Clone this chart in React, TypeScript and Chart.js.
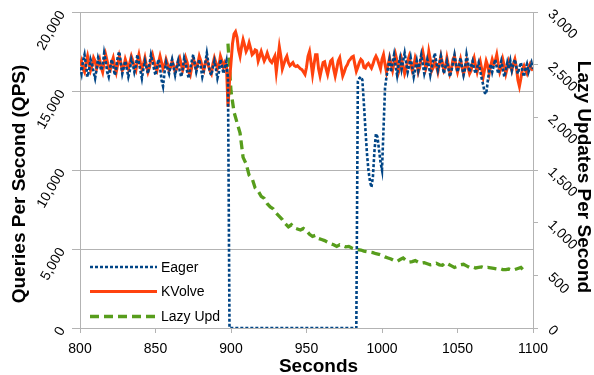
import React, { useEffect, useRef } from "react";
import { Chart, registerables } from "chart.js";

Chart.register(...registerables);

// ---------- data ----------
const SERIES_NAMES = ["Eager", "KVolve", "Lazy Upd"];
const X_TITLE = "Seconds";
const Y_LEFT_TITLE = "Queries Per Second (QPS)";
const Y_RIGHT_TITLE = "Lazy Updates Per Second";

// Eager and KVolve: one value per second, starting at second 800
const QPS_START_SECOND = 800;
const QPS_STEP_SECONDS = 1;

const eagerQps = [
  16500, 16100, 16900, 17300, 16600, 15900, 16300, 17000, 16700, 16200, // 800
  15800, 16400, 17100, 16800, 16300, 16600, 17400, 16900, 16200, 15900, // 810
  16500, 17000, 16600, 16000, 16400, 17200, 17500, 16800, 16100, 16500, // 820
  16900, 16400, 15900, 16300, 17000, 16700, 16200, 16600, 17300, 16800, // 830
  16300, 15800, 16400, 16900, 16500, 16100, 16700, 17300, 16900, 16400, // 840
  16000, 16600, 17000, 16500, 15700, 15300, 16200, 16800, 16400, 16100, // 850
  16600, 17000, 16500, 16000, 16500, 16900, 16300, 15900, 16400, 17100, // 860
  16800, 16200, 15800, 16400, 16900, 17300, 16700, 16200, 16600, 17000, // 870
  16500, 15900, 16300, 16800, 17400, 16800, 16200, 16000, 16500, 16900, // 880
  16400, 15800, 16200, 17000, 16600, 16100, 16500, 16900, 15800, 0, // 890
  0, 0, 0, 0, 0, 0, 0, 0, 0, 0, // 900
  0, 0, 0, 0, 0, 0, 0, 0, 0, 0, // 910
  0, 0, 0, 0, 0, 0, 0, 0, 0, 0, // 920
  0, 0, 0, 0, 0, 0, 0, 0, 0, 0, // 930
  0, 0, 0, 0, 0, 0, 0, 0, 0, 0, // 940
  0, 0, 0, 0, 0, 0, 0, 0, 0, 0, // 950
  0, 0, 0, 0, 0, 0, 0, 0, 0, 0, // 960
  0, 0, 0, 0, 0, 0, 0, 0, 0, 0, // 970
  0, 0, 0, 0, 15600, 15800, 15900, 15700, 14200, 12600, // 980
  11100, 10000, 9300, 8900, 9600, 11200, 12300, 12100, 11300, 10500, // 990
  10000, 12600, 15200, 15900, 16500, 17000, 16200, 16800, 17300, 16600, // 1000
  16000, 16700, 17100, 16400, 16900, 17400, 16800, 16200, 16600, 17100, // 1010
  16500, 15900, 16400, 16900, 16300, 16800, 17300, 16700, 16100, 16500, // 1020
  17000, 16600, 16000, 16500, 17000, 17400, 16800, 16300, 16700, 17200, // 1030
  16600, 16100, 16500, 16900, 16400, 15900, 16300, 16800, 17300, 16700, // 1040
  16200, 16600, 17100, 16500, 16000, 16400, 17300, 16800, 16200, 16600, // 1050
  16900, 16400, 16100, 16500, 16800, 16300, 15800, 15400, 14900, 14800, // 1060
  15600, 16300, 16700, 16200, 16600, 17000, 16500, 16100, 16500, 16900, // 1070
  16400, 15900, 16300, 16800, 16400, 16900, 16300, 16700, 17000, 16500, // 1080
  16100, 16500, 16800, 16300, 15900, 16400, 16700, 16200, 16500, 16800, // 1090
  16400, // 1100
];

const kvolveQps = [
  16600, 16900, 16400, 16200, 16800, 17200, 16700, 16300, 16600, 17100, // 800
  16900, 16400, 16700, 17000, 16500, 16200, 16800, 17300, 16900, 16400, // 810
  16300, 16800, 17100, 16600, 16200, 16700, 17200, 16800, 16300, 16500, // 820
  17000, 16700, 16400, 16800, 17200, 16900, 16500, 16300, 16900, 17300, // 830
  16800, 16400, 16700, 17100, 16600, 16200, 16500, 17000, 17300, 16900, // 840
  16500, 16300, 16800, 17200, 16800, 16400, 16600, 17000, 16700, 16300, // 850
  16500, 16900, 16600, 16200, 16400, 16900, 17100, 16700, 16300, 16600, // 860
  17100, 16800, 16200, 16000, 16500, 17000, 16800, 16400, 16700, 17200, // 870
  16900, 16500, 16300, 16800, 17000, 16600, 16300, 16100, 16700, 17100, // 880
  16800, 16400, 16600, 17200, 16900, 16500, 16800, 16600, 14000, 15600, // 890
  16800, 18000, 18600, 18750, 18400, 17600, 17200, 17800, 18250, 17900, // 900
  17500, 17700, 18050, 17700, 17300, 17400, 17600, 17550, 16900, 17200, // 910
  17500, 17200, 16900, 17100, 17400, 17100, 16900, 16800, 17000, 17200, // 920
  16200, 17000, 17800, 17200, 16400, 16700, 17000, 17200, 16800, 16600, // 930
  16700, 16800, 16600, 16550, 16600, 16500, 16400, 16350, 16200, 16050, // 940
  16500, 17200, 17500, 16800, 16050, 16700, 17300, 17300, 16400, 15950, // 950
  16400, 16800, 16850, 16400, 16050, 16500, 16900, 17000, 16400, 15950, // 960
  16400, 16900, 17100, 16500, 15950, 16200, 16500, 16650, 16900, 17000, // 970
  17150, 17200, 16700, 16250, 16500, 16800, 17000, 16900, 16500, 16450, // 980
  16650, 16750, 16600, 16450, 16700, 17000, 17200, 17000, 16700, 16400, // 990
  17000, 17300, 16700, 16200, 16600, 17100, 16700, 16300, 16800, 17300, // 1000
  16900, 16200, 16500, 17000, 16600, 16100, 16400, 16900, 17200, 16700, // 1010
  16300, 16600, 17100, 16800, 16200, 16500, 17100, 17500, 17000, 16400, // 1020
  16700, 17500, 17000, 16300, 16500, 16900, 16600, 16200, 16700, 17200, // 1030
  16800, 16300, 16500, 17100, 16600, 16100, 16400, 17000, 17200, 16600, // 1040
  16200, 16600, 17000, 16500, 16100, 16500, 16900, 16500, 16100, 16300, // 1050
  16800, 17100, 16600, 16200, 16600, 16900, 16400, 15900, 16400, 16900, // 1060
  16600, 16100, 16600, 17000, 16700, 16900, 17300, 16700, 16200, 16500, // 1070
  17000, 16600, 16100, 16500, 16900, 16600, 16300, 16700, 17000, 16500, // 1080
  15700, 15300, 15800, 16400, 16600, 16300, 16100, 16500, 16700, 16400, // 1090
  16300, // 1100
];

// Lazy updates: one value every 2 seconds, starting at second 898
const LAZY_START_SECOND = 898;
const LAZY_STEP_SECONDS = 2;
const lazyUpdates = [
  2700, 2250, 2050, 1950, 1850, 1620, 1560, 1450, 1420, 1330, // 898
  1300, 1250, 1230, 1180, 1150, 1130, 1090, 1060, 1030, 990, // 918
  960, 980, 950, 940, 930, 945, 925, 890, 870, 880, // 938
  850, 840, 830, 815, 800, 790, 775, 790, 780, 770, // 958
  775, 760, 750, 745, 740, 730, 725, 720, 715, 705, // 978
  700, 690, 675, 665, 655, 640, 632, 650, 665, 640, // 998
  625, 630, 640, 625, 615, 620, 610, 600, 605, 615, // 1018
  600, 595, 620, 605, 590, 575, 585, 600, 605, 590, // 1038
  575, 580, 570, 575, 580, 570, 575, 570, 565, 560, // 1058
  565, 555, 555, 560, 550, 555, 565, 575, 545, 535, // 1078
];

// axis ranges / tick steps
const X_MIN = 800;
const X_MAX = 1100;
const X_STEP = 50;
const Y_LEFT_MAX = 20000;
const Y_LEFT_STEP = 5000;
const Y_RIGHT_MAX = 3000;
const Y_RIGHT_STEP = 500;

// ---------- styles ----------
const EAGER_COLOR = "#004586";
const KVOLVE_COLOR = "#ff420e";
const LAZY_COLOR = "#579d1c";
const GRID_COLOR = "#b3b3b3";
const FONT = "'Liberation Sans', Arial, Helvetica, sans-serif";

export default function App() {
  const canvasRef = useRef<HTMLCanvasElement | null>(null);

  useEffect(() => {
    document.body.style.margin = "0";
    const canvas = canvasRef.current;
    if (!canvas) return;

    const eagerPts = eagerQps.map((v, i) => ({ x: QPS_START_SECOND + i * QPS_STEP_SECONDS, y: v }));
    const kvolvePts = kvolveQps.map((v, i) => ({ x: QPS_START_SECOND + i * QPS_STEP_SECONDS, y: v }));
    const lazyPts = lazyUpdates.map((v, i) => ({ x: LAZY_START_SECOND + i * LAZY_STEP_SECONDS, y: v }));

    const legendStyles = [
      { color: EAGER_COLOR, dash: [3, 2], width: 2.6 },
      { color: KVOLVE_COLOR, dash: [], width: 3 },
      { color: LAZY_COLOR, dash: [9, 5], width: 3.3 },
    ];

    const overlayPlugin = {
      id: "overlay",
      afterDraw(chart: any) {
        const { ctx, chartArea } = chart;
        const ca = chartArea;
        ctx.save();
        // inside legend
        const rowYs = [ca.bottom - 61, ca.bottom - 36.5, ca.bottom - 11.5];
        SERIES_NAMES.forEach((name, i) => {
          const st = legendStyles[i];
          const y = rowYs[i];
          ctx.beginPath();
          ctx.setLineDash(st.dash);
          ctx.lineWidth = st.width;
          ctx.strokeStyle = st.color;
          ctx.lineCap = "butt";
          ctx.moveTo(ca.left + 10, y);
          ctx.lineTo(ca.left + 77, y);
          ctx.stroke();
          ctx.setLineDash([]);
          ctx.fillStyle = "#000";
          ctx.font = `14px ${FONT}`;
          ctx.textAlign = "left";
          ctx.textBaseline = "middle";
          ctx.fillText(name, ca.left + 81, y + 1);
        });
        // axis titles
        const midY = (ca.top + ca.bottom) / 2;
        const midX = (ca.left + ca.right) / 2;
        ctx.fillStyle = "#000";
        ctx.font = `bold 19px ${FONT}`;
        ctx.textAlign = "center";
        ctx.textBaseline = "middle";
        ctx.fillText(X_TITLE, midX + 12, 367);

        ctx.save();
        ctx.translate(19.5, midY + 14);
        ctx.rotate(-Math.PI / 2);
        ctx.fillText(Y_LEFT_TITLE, 0, 0);
        ctx.restore();

        ctx.save();
        ctx.translate(583.5, midY + 7);
        ctx.rotate(Math.PI / 2);
        ctx.fillText(Y_RIGHT_TITLE, 0, 0);
        ctx.restore();

        ctx.restore();
      },
    };

    const zeroPad = (s: any) => {
      s.paddingTop = 0;
      s.paddingBottom = 0;
      s.paddingLeft = 0;
      s.paddingRight = 0;
    };

    const chart = new Chart(canvas, {
      type: "line",
      data: {
        datasets: [
          {
            label: SERIES_NAMES[0],
            data: eagerPts,
            yAxisID: "y",
            borderColor: EAGER_COLOR,
            backgroundColor: EAGER_COLOR,
            borderWidth: 2.6,
            borderDash: [3, 2],
            pointRadius: 0,
            tension: 0,
            fill: false,
          },
          {
            label: SERIES_NAMES[1],
            data: kvolvePts,
            yAxisID: "y",
            borderColor: KVOLVE_COLOR,
            backgroundColor: KVOLVE_COLOR,
            borderWidth: 3,
            pointRadius: 0,
            tension: 0,
            fill: false,
          },
          {
            label: SERIES_NAMES[2],
            data: lazyPts,
            yAxisID: "y1",
            borderColor: LAZY_COLOR,
            backgroundColor: LAZY_COLOR,
            borderWidth: 3.3,
            borderDash: [9, 5],
            pointRadius: 0,
            tension: 0,
            fill: false,
          },
        ],
      },
      options: {
        animation: false,
        responsive: false,
        devicePixelRatio: 1,
        layout: { padding: { top: 12, left: 0, right: 0, bottom: 0 } },
        plugins: {
          legend: { display: false },
          tooltip: { enabled: false },
          title: { display: false },
        },
        scales: {
          x: {
            type: "linear",
            min: X_MIN,
            max: X_MAX,
            grid: { drawOnChartArea: false, color: GRID_COLOR, tickLength: 5 },
            border: { color: GRID_COLOR },
            ticks: {
              stepSize: X_STEP,
              color: "#000",
              font: { family: FONT, size: 14 },
              padding: 8,
              maxRotation: 0,
              minRotation: 0,
              callback: (v: any) => String(v),
            },
            afterFit: (s: any) => {
              s.height = 47;
              zeroPad(s);
            },
          },
          y: {
            type: "linear",
            position: "left",
            min: 0,
            max: Y_LEFT_MAX,
            grid: { color: GRID_COLOR, tickLength: 8 },
            border: { color: GRID_COLOR },
            ticks: {
              stepSize: Y_LEFT_STEP,
              color: "#000",
              font: { family: FONT, size: 14 },
              padding: 10,
              minRotation: 60,
              maxRotation: 60,
              callback: (v: any) => Number(v).toLocaleString("en-US"),
            },
            afterFit: (s: any) => {
              s.width = 80;
              zeroPad(s);
            },
          },
          y1: {
            type: "linear",
            position: "right",
            min: 0,
            max: Y_RIGHT_MAX,
            grid: { drawOnChartArea: false, color: GRID_COLOR, tickLength: 5 },
            border: { color: GRID_COLOR },
            ticks: {
              stepSize: Y_RIGHT_STEP,
              color: "#000",
              font: { family: FONT, size: 14 },
              padding: 12,
              minRotation: -45,
              maxRotation: -45,
              callback: (v: any) => Number(v).toLocaleString("en-US"),
            },
            afterFit: (s: any) => {
              s.width = 61;
              zeroPad(s);
            },
          },
        },
      },
      plugins: [overlayPlugin],
    } as any);

    return () => chart.destroy();
  }, []);

  return (
    <div style={{ width: 594, height: 375, background: "#fff" }}>
      <canvas ref={canvasRef} width={594} height={375} />
    </div>
  );
}
